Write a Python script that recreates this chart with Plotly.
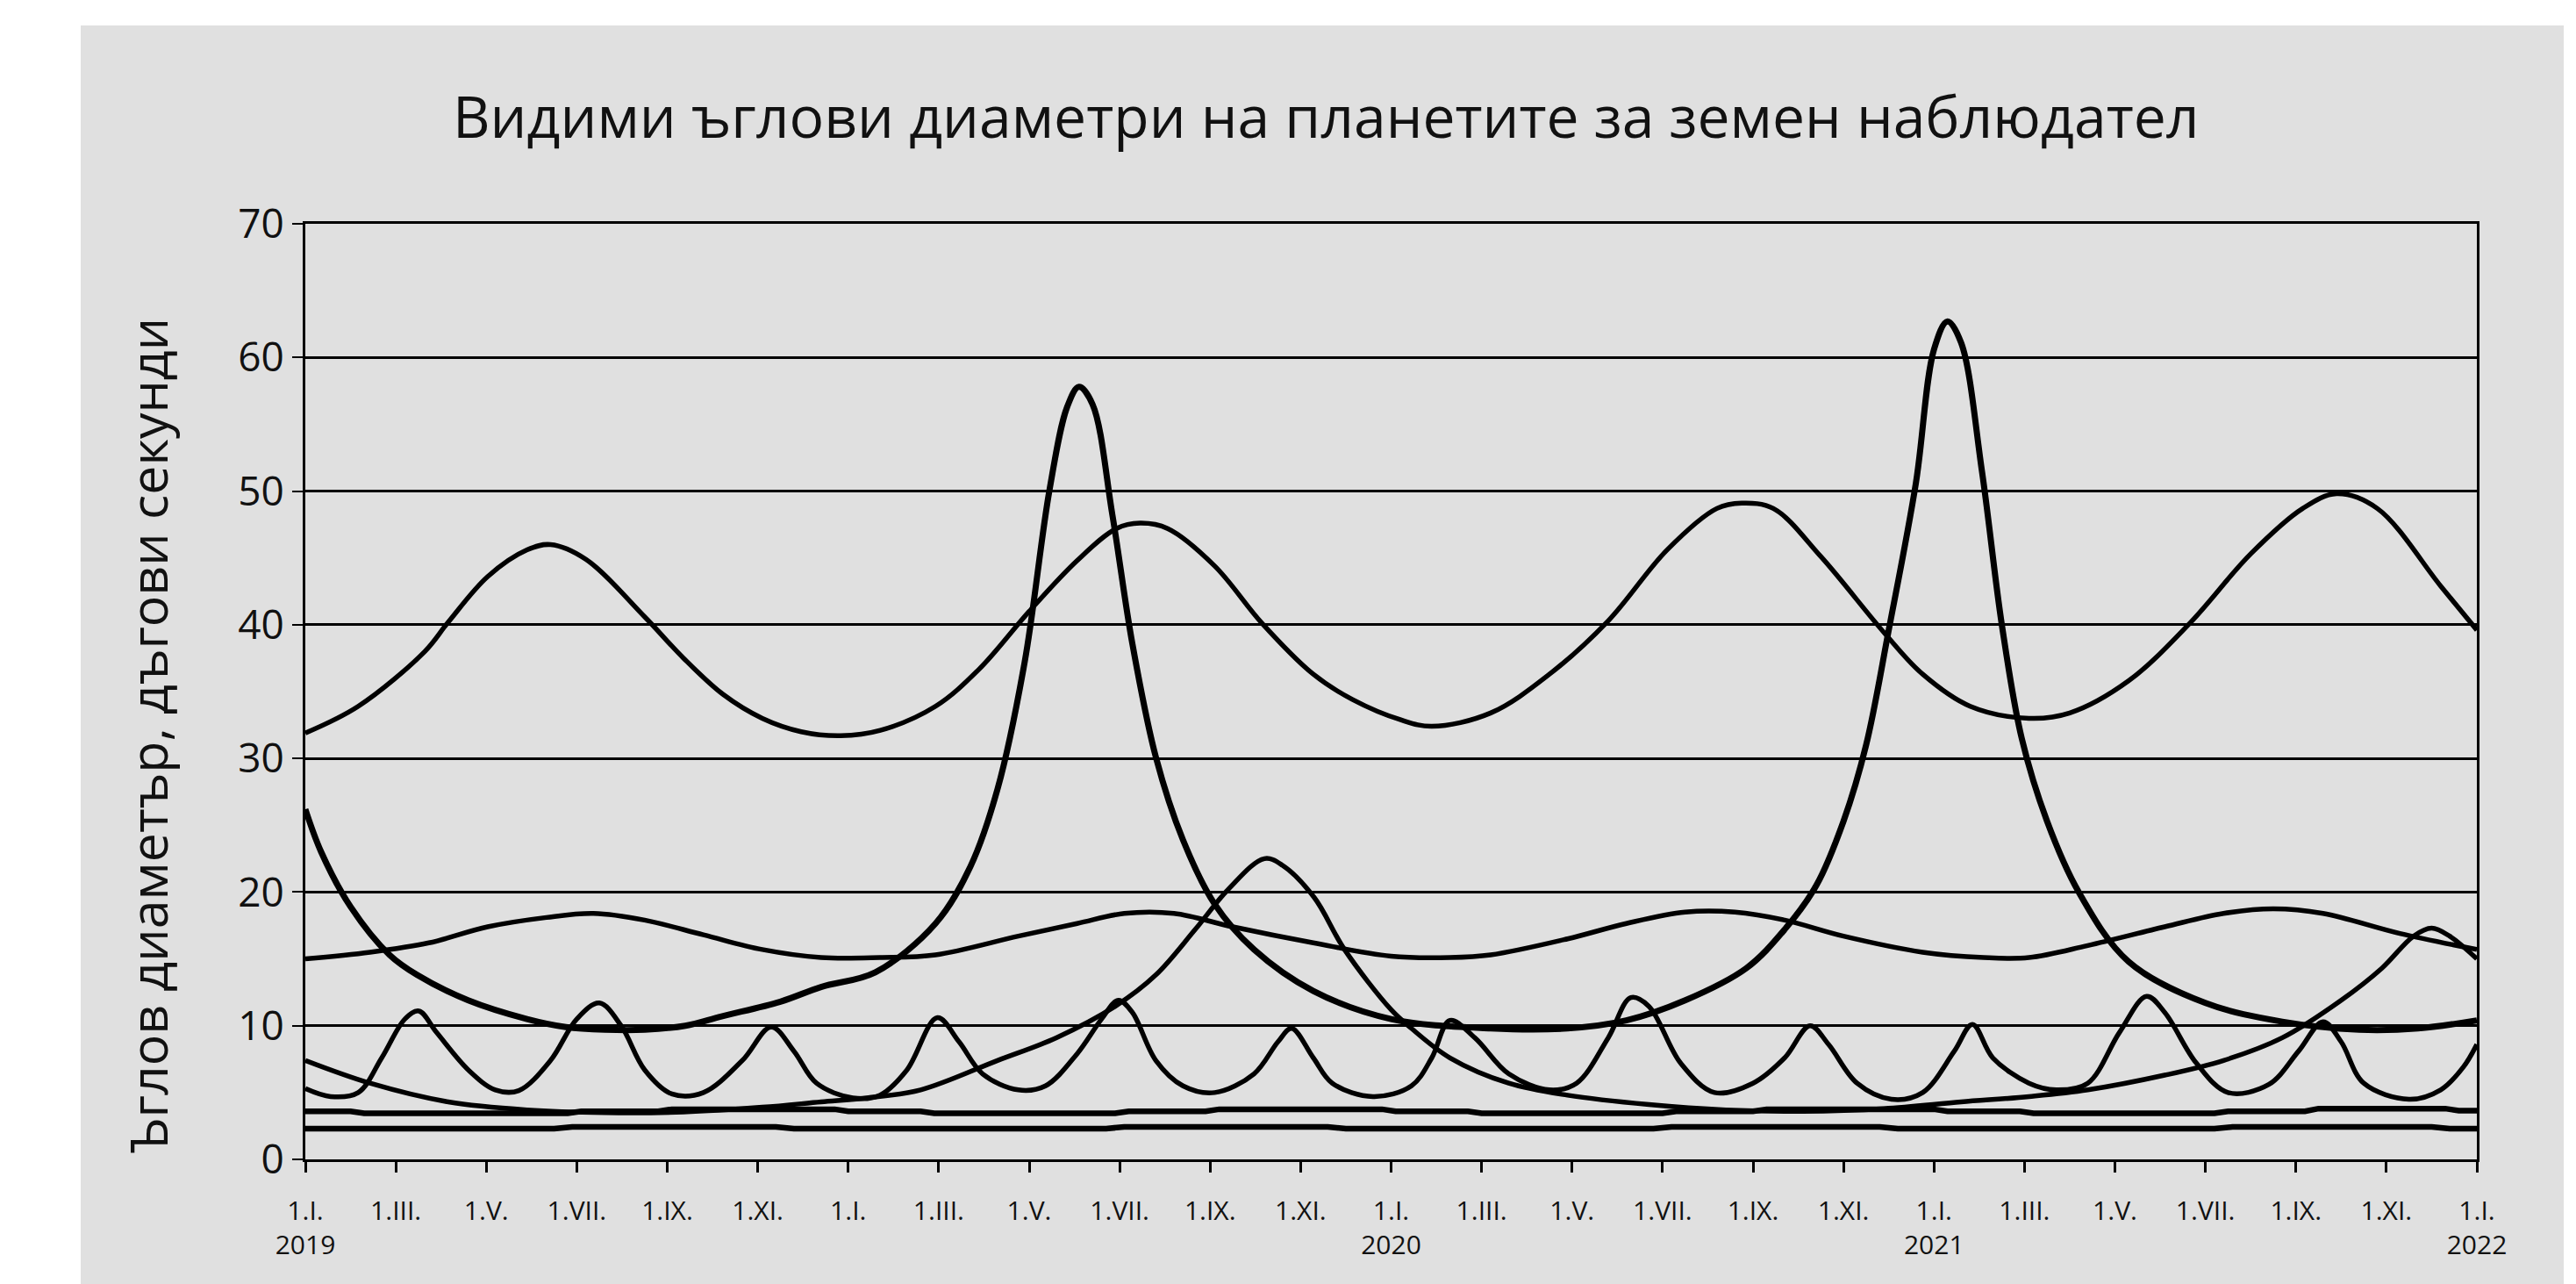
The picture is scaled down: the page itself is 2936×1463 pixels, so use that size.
import plotly.graph_objects as go

# x = months since 1 Jan 2019 (tick every 2 months), y = arcseconds
TICK_VALS = list(range(0, 49, 2))
TICK_TEXT = ['1.I.<br>2019', '1.III.', '1.V.', '1.VII.', '1.IX.', '1.XI.',
             '1.I.', '1.III.', '1.V.', '1.VII.', '1.IX.', '1.XI.',
             '1.I.<br>2020', '1.III.', '1.V.', '1.VII.', '1.IX.', '1.XI.',
             '1.I.<br>2021', '1.III.', '1.V.', '1.VII.', '1.IX.', '1.XI.',
             '1.I.<br>2022']

jupiter_m = [0, 1.17, 2.64, 3.16, 4.03, 4.9, 5.42, 6.2, 7.5, 8.36, 9.23, 10.1, 10.96, 11.83,
             12.71, 13.93, 14.9, 16.0, 17.06, 17.93, 18.45, 19.06, 20.1, 21.15, 22.28, 23.15,
             24.2, 24.9, 26.2, 27.5, 28.8, 30.1, 31.2, 31.75, 32.45, 33.5, 34.9, 35.75, 36.8,
             38.1, 39.0, 40.3, 41.65, 43.0, 44.15, 44.9, 45.8, 47.2, 48]
jupiter_v = [31.9, 33.9, 38.0, 40.2, 43.6, 45.6, 46.0, 44.9, 40.6, 37.5, 34.8, 33.0, 32.0, 31.7,
             32.1, 33.9, 36.7, 41.0, 44.8, 47.2, 47.6, 47.2, 44.4, 40.1, 36.3, 34.4,
             32.9, 32.4, 33.4, 36.3, 40.3, 45.6, 48.7, 49.1, 48.7, 45.1, 39.4, 36.3, 33.9,
             33.0, 33.4, 35.8, 40.1, 45.3, 48.7, 49.8, 48.7, 42.9, 39.6]

saturn_m = [0, 1.43, 2.73, 4.03, 5.33, 6.37, 7.5, 8.8, 10.1, 11.4, 12.7, 13.93, 15.76, 17.06,
            18.1, 19.2, 20.5, 22.28, 24.0, 25.3, 26.2, 27.9, 29.2, 30.5, 31.6, 32.7, 34.0,
            35.75, 37.1, 38.1, 39.4, 41.1, 42.4, 43.5, 44.6, 46.3, 48]
saturn_v = [15.0, 15.5, 16.2, 17.4, 18.1, 18.4, 17.9, 16.8, 15.7, 15.1, 15.1, 15.3, 16.7, 17.65,
            18.4, 18.4, 17.4, 16.2, 15.2, 15.1, 15.3, 16.5, 17.65, 18.5, 18.5, 17.9, 16.7,
            15.5, 15.1, 15.1, 16.0, 17.4, 18.4, 18.75, 18.4, 16.9, 15.7]

venus_m = [0, 0.35, 1.0, 1.86, 2.47, 3.6, 4.9, 5.76, 6.63, 7.5, 8.4, 9.2, 10.5, 11.4, 12.6,
           13.93, 14.7, 15.3, 15.9, 16.45, 16.84, 17.1, 17.4, 17.84, 18.28, 18.8, 19.4, 20.1,
           20.97, 22.28, 24.0, 26.2, 27.9, 29.2, 30.5, 31.85, 32.7, 33.4, 34.0, 34.5, 35.0,
           35.6, 36.0, 36.3, 36.6, 37.06, 37.5, 37.94, 38.5, 39.2, 40.3, 42.0, 43.7, 45.4,
           46.7, 48]
venus_v = [26.2, 23.0, 18.9, 15.3, 13.8, 11.9, 10.5, 9.9, 9.7, 9.7, 10.0, 10.7, 11.8, 12.9, 14.0,
           17.65, 21.9, 27.7, 37.2, 50.1, 56.3, 57.8, 56.5, 48.2, 38.6, 30.1, 23.9, 19.1,
           15.7, 12.6, 10.5, 9.8, 9.8, 10.4, 11.9, 14.3, 17.2, 20.5, 25.3, 31.0, 39.6,
           50.6, 60.6, 62.7, 61.1, 51.5, 40.0, 31.5, 25.3, 20.0, 14.8, 11.7, 10.3, 9.7,
           9.8, 10.4]

mars_m = [0, 1.43, 3.16, 4.9, 6.63, 8.36, 10.1, 11.4, 12.4, 13.6, 15.3, 16.6, 17.9, 18.8,
          19.67, 20.4, 21.2, 21.6, 22.3, 22.97, 24.0, 24.45, 25.3, 26.6, 27.9, 29.7, 31.4,
          33.1, 34.9, 36.6, 38.1, 39.4, 41.1, 42.4, 43.7, 45.0, 45.9, 46.6, 47.0, 47.4, 48]
mars_v = [7.4, 5.7, 4.3, 3.7, 3.5, 3.55, 3.9, 4.3, 4.6, 5.2, 7.4, 9.1, 11.45, 13.8,
          17.2, 20.2, 22.5, 22.0, 19.6, 15.7, 11.2, 9.8, 7.6, 5.7, 4.8, 4.1, 3.7,
          3.6, 3.8, 4.3, 4.7, 5.2, 6.3, 7.4, 9.1, 11.9, 14.3, 16.7, 17.3, 16.7, 15.0]

mercury_m = [0, 0.56, 1.17, 1.69, 2.2, 2.51, 2.9, 3.6, 4.2, 4.72, 5.42, 6.0, 6.5, 6.98, 7.5,
             8.1, 8.8, 9.66, 10.3, 10.8, 11.3, 12.1, 12.7, 13.3, 13.97, 14.45, 14.97, 15.76,
             16.36, 17.06, 17.6, 17.97, 18.28, 18.8, 19.4, 20.1, 20.97, 21.5, 21.8, 22.28,
             22.7, 23.6, 24.45, 24.9, 25.3, 25.85, 26.6, 27.5, 28.1, 28.8, 29.3, 29.7, 30.4,
             31.15, 32.0, 32.7, 33.26, 33.67, 34.3, 35.06, 35.75, 36.45, 36.85, 37.3, 38.1,
             38.7, 39.4, 40.1, 40.7, 41.1, 41.8, 42.5, 43.4, 44.06, 44.6, 45.0, 45.5, 46.5,
             47.2, 47.7, 48]
mercury_v = [5.3, 4.7, 5.0, 7.6, 10.5, 11.1, 9.5, 6.7, 5.2, 5.15, 7.4, 10.5, 11.7, 10.0, 6.7,
             4.9, 5.0, 7.4, 9.9, 8.1, 5.7, 4.6, 4.8, 6.7, 10.6, 8.8, 6.4, 5.2,
             5.5, 7.9, 10.5, 11.9, 11.0, 7.4, 5.5, 5.0, 6.4, 8.8, 9.8, 7.6,
             5.7, 4.7, 5.5, 7.6, 10.4, 9.1, 6.4, 5.2, 5.7, 9.1, 12.1, 11.45, 7.2,
             5.0, 5.7, 7.6, 10.0, 8.6, 5.7, 4.5, 5.0, 8.1, 10.1, 7.6, 5.7,
             5.2, 5.7, 9.5, 12.2, 11.0, 7.2, 5.0, 5.6, 8.1, 10.3, 8.8, 5.7, 4.5,
             5.2, 6.9, 8.6]

uranus_m = [0, 1.0, 1.3, 2.9, 3.2, 4.2, 4.5, 5.8, 6.1, 7.8, 8.1, 11.7, 12.0, 13.6, 13.9, 15.1,
            15.4, 16.3, 16.6, 17.9, 18.2, 19.9, 20.2, 23.8, 24.1, 25.7, 26.0, 27.2, 27.5,
            28.4, 28.7, 30.0, 30.3, 32.0, 32.3, 36.0, 36.3, 37.9, 38.2, 39.4, 39.7, 40.6,
            40.9, 42.2, 42.5, 44.2, 44.5, 47.3, 47.6, 48]
uranus_v = [3.6, 3.6, 3.45, 3.45, 3.35, 3.35, 3.45, 3.45, 3.6, 3.6, 3.75, 3.75, 3.6, 3.6, 3.45,
            3.45, 3.35, 3.35, 3.45, 3.45, 3.6, 3.6, 3.75, 3.75, 3.6, 3.6, 3.45, 3.45, 3.35,
            3.35, 3.45, 3.45, 3.6, 3.6, 3.75, 3.75, 3.6, 3.6, 3.45, 3.45, 3.35, 3.35,
            3.45, 3.45, 3.6, 3.6, 3.8, 3.8, 3.65, 3.65]

neptune_m = [0, 5.5, 5.9, 10.4, 10.8, 17.7, 18.1, 22.6, 23.0, 29.8, 30.2, 34.8, 35.2, 42.2,
             42.6, 47.0, 47.4, 48]
neptune_v = [2.3, 2.3, 2.43, 2.43, 2.3, 2.3, 2.43, 2.43, 2.3, 2.3, 2.43, 2.43, 2.3, 2.3,
             2.43, 2.43, 2.3, 2.3]

BG = '#e0e0e0'
W, H = 2936, 1463
L, R, T, B = 340, 2815, 247, 1313   # plot area in pixels

fig = go.Figure()

curves = [
    (jupiter_m, jupiter_v, 5.5, 'spline'),
    (saturn_m, saturn_v, 5.5, 'spline'),
    (venus_m, venus_v, 7, 'spline'),
    (mars_m, mars_v, 5.5, 'spline'),
    (mercury_m, mercury_v, 5.5, 'spline'),
    (uranus_m, uranus_v, 6.5, 'linear'),
    (neptune_m, neptune_v, 6.5, 'linear'),
]
for xs, ys, w, shape in curves:
    fig.add_trace(go.Scatter(x=xs, y=ys, mode='lines',
                             line=dict(color='black', width=w, shape=shape, smoothing=1.0),
                             showlegend=False, hoverinfo='skip'))

pw, ph = R - L, B - T
# grey card behind the chart (white strip left/top/right like the scan)
fig.add_shape(type='rect', xref='paper', yref='paper', layer='below',
              x0=(84 - L) / pw, x1=(2914 - L) / pw,
              y0=(B - H) / ph, y1=(B - 21) / ph,
              fillcolor=BG, line=dict(width=0))

fig.add_annotation(text='Ъглов диаметър, дъгови секунди', textangle=-90,
                   xref='paper', yref='paper', x=(160 - L) / pw, y=(B - 830) / ph,
                   xanchor='center', yanchor='middle',
                   showarrow=False, font=dict(family='Open Sans', size=59, color='#111'))

fig.update_layout(
    width=W, height=H,
    margin=dict(l=L, r=W - R, t=T, b=H - B),
    paper_bgcolor='white', plot_bgcolor=BG,
    title=dict(text='Видими ъглови диаметри на планетите за земен наблюдател',
               x=0.512, y=1 - 126 / H, xref='container', yref='container',
               xanchor='center', yanchor='middle',
               font=dict(family='Open Sans', size=66, color='#111')),
    font=dict(family='Open Sans', color='#111'),
)
fig.update_xaxes(range=[0, 48], tickvals=TICK_VALS, ticktext=TICK_TEXT,
                 showgrid=False, zeroline=False,
                 showline=True, linecolor='black', linewidth=3, mirror=True,
                 ticks='outside', ticklen=12, tickwidth=3, tickcolor='black',
                 ticklabelstandoff=18, tickfont=dict(size=30, family='Open Sans'))
fig.update_yaxes(range=[0, 70], tickvals=list(range(0, 71, 10)),
                 showgrid=True, gridcolor='black', gridwidth=2.5, zeroline=False,
                 showline=True, linecolor='black', linewidth=3, mirror=True,
                 ticks='outside', ticklen=12, tickwidth=2, tickcolor='black',
                 tickfont=dict(size=46, family='Open Sans'))

fig.write_html('out.html')
